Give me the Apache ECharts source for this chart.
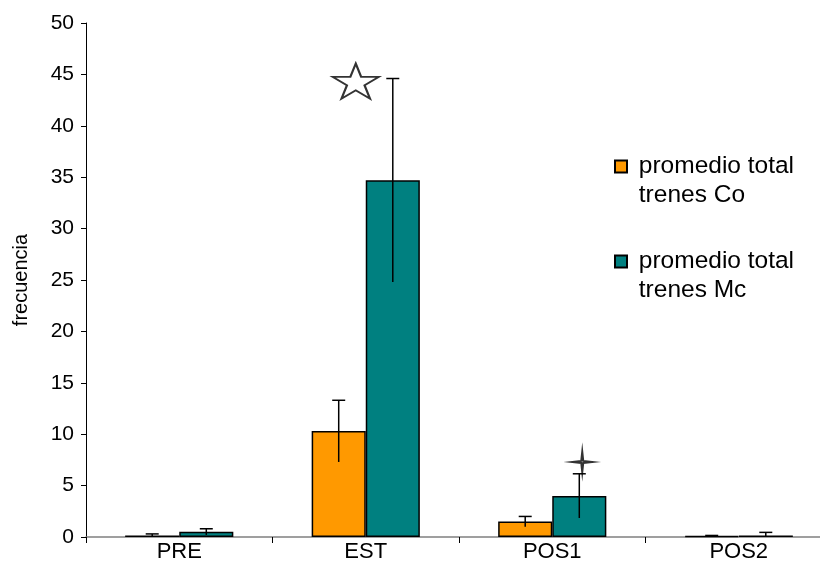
<!DOCTYPE html>
<html>
<head>
<meta charset="utf-8">
<script src="https://cdn.jsdelivr.net/npm/echarts@6/dist/echarts.min.js"></script>
<style>
  html, body { margin: 0; padding: 0; background: #fff; overflow: hidden; }
  #chart { width: 832px; height: 579px; }
</style>
</head>
<body>
<div id="chart"></div>
<script>
// Categories and series values
const categories = ['PRE', 'EST', 'POS1', 'POS2'];
const seriesNames = ['promedio total\ntrenes Co', 'promedio total\ntrenes Mc'];
const meanCo = [0.15, 10.3, 1.5, 0.1];
const errCo = [0.15, 3.0, 0.5, 0.05];
const meanMc = [0.5, 34.7, 4.0, 0.15];
const errMc = [0.3, 9.9, 2.15, 0.3];
const yTicks = [0, 50, 5]; // min, max, interval

// Significance markers: [category, value]
const starMarks = [['EST', 44.35]];
const crossMarks = [['POS1', 7.3]];

const FONT = 'Liberation Sans, Arial, sans-serif';
const BAR_GAP_CAT = 0.42;

const starPath = 'path://M50 0 L61.23 34.55 L97.55 34.55 L68.17 55.9 L79.39 90.45 L50 69.1 L20.61 90.45 L31.83 55.9 L2.45 34.55 L38.77 34.55 Z';
const crossPath = 'path://M50 0 L55 45 L100 50 L55 55 L50 100 L45 55 L0 50 L45 45 Z';

function errorSeries(means, errs, side) {
  return {
    type: 'custom',
    silent: true,
    z: 5,
    data: means.map((m, i) => [i, m, errs[i]]),
    renderItem: function (params, api) {
      const idx = api.value(0);
      const m = api.value(1);
      const e = api.value(2);
      const band = api.size([1, 0])[0];
      const barW = band * (1 - BAR_GAP_CAT) / 2;
      const hi = api.coord([idx, m + e]);
      const lo = api.coord([idx, Math.max(m - e, 0)]);
      const x = hi[0] + side * barW / 2;
      const cap = 6.5;
      const st = { stroke: '#000', lineWidth: 1.5 };
      return {
        type: 'group',
        children: [
          { type: 'line', shape: { x1: x, y1: hi[1], x2: x, y2: lo[1] }, style: st },
          { type: 'line', shape: { x1: x - cap, y1: hi[1], x2: x + cap, y2: hi[1] }, style: st }
        ]
      };
    }
  };
}

const chart = echarts.init(document.getElementById('chart'));
chart.setOption({
  animation: false,
  textStyle: { fontFamily: FONT },
  grid: { left: 86, top: 23, right: 0, bottom: 42, containLabel: false },
  legend: {
    orient: 'vertical',
    left: 609,
    top: 118,
    itemWidth: 12,
    itemHeight: 12,
    itemGap: 8,
    icon: 'rect',
    data: seriesNames,
    // a blank leading line keeps the swatch level with the first text line;
    // a leading space on each line widens the gap after the swatch
    formatter: name => ' \n' + name.split('\n').map(s => ' ' + s).join('\n'),
    textStyle: { fontSize: 24.5, color: '#000', lineHeight: 29, fontFamily: FONT }
  },
  xAxis: {
    type: 'category',
    data: categories,
    axisLine: { lineStyle: { color: '#808080', width: 1.5 } },
    axisTick: { show: true, length: 6, lineStyle: { color: '#000' } },
    axisLabel: { color: '#000', fontSize: 22, margin: 4, fontFamily: FONT },
    splitLine: { show: false }
  },
  yAxis: {
    type: 'value',
    min: yTicks[0],
    max: yTicks[1],
    interval: yTicks[2],
    name: 'frecuencia',
    nameLocation: 'middle',
    nameRotate: 90,
    nameGap: 55,
    nameTextStyle: { color: '#000', fontSize: 20, fontFamily: FONT },
    axisLine: { show: true, lineStyle: { color: '#000', width: 1 } },
    axisTick: { show: true, length: 5, lineStyle: { color: '#000' } },
    axisLabel: { color: '#000', fontSize: 21, margin: 12, fontFamily: FONT },
    splitLine: { show: false }
  },
  series: [
    {
      name: seriesNames[0],
      type: 'bar',
      data: meanCo,
      barGap: '0%',
      barCategoryGap: (BAR_GAP_CAT * 100) + '%',
      itemStyle: { color: '#FF9900', borderColor: '#000', borderWidth: 1.5 }
    },
    {
      name: seriesNames[1],
      type: 'bar',
      data: meanMc,
      barGap: '0%',
      barCategoryGap: (BAR_GAP_CAT * 100) + '%',
      itemStyle: { color: '#008080', borderColor: '#000', borderWidth: 1.5 }
    },
    errorSeries(meanCo, errCo, -1),
    errorSeries(meanMc, errMc, 1),
    {
      type: 'scatter',
      data: starMarks,
      symbol: starPath,
      symbolSize: [46, 35],
      symbolOffset: [-10, 0],
      z: 6,
      itemStyle: { color: '#fff', borderColor: '#000', borderWidth: 2 }
    },
    {
      type: 'scatter',
      data: crossMarks,
      symbol: crossPath,
      symbolSize: [20, 21],
      symbolOffset: [30, 0],
      z: 6,
      itemStyle: { color: '#fff', borderColor: '#000', borderWidth: 2 }
    }
  ]
});
</script>
</body>
</html>
